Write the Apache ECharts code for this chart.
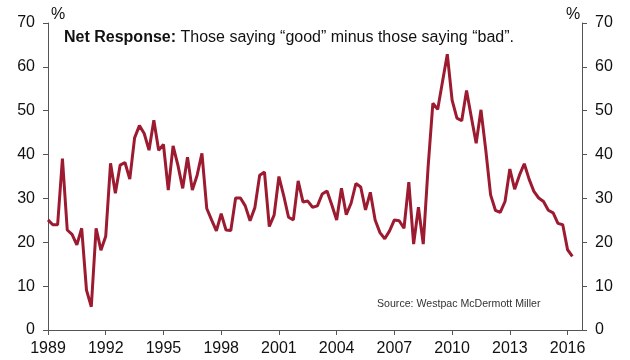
<!DOCTYPE html>
<html>
<head>
<meta charset="utf-8">
<script src="https://cdn.jsdelivr.net/npm/echarts@6/dist/echarts.min.js"></script>
<style>
  html, body { margin: 0; padding: 0; background: #fff; }
  #chart { width: 630px; height: 360px; }
</style>
</head>
<body>
<div id="chart"></div>
<script>
// Quarterly net response, first value is Q1 1989
const startYear = 1989;
const netResponse = [
  25.1, 24.0, 24.0, 39.1, 22.8, 21.8, 19.4, 23.2, 9.1, 5.3,
  23.2, 18.2, 21.4, 38.0, 31.2, 37.6, 38.2, 34.4, 43.8, 46.6,
  44.8, 41.0, 47.8, 41.0, 42.3, 31.9, 42.0, 37.6, 32.3, 39.4,
  31.9, 35.3, 40.3, 27.7, 25.1, 22.6, 26.5, 22.8, 22.7, 30.1,
  30.1, 28.3, 24.9, 27.9, 35.3, 36.0, 23.6, 26.2, 35.0, 30.6,
  25.7, 25.1, 34.0, 29.2, 29.4, 28.0, 28.3, 31.0, 31.7, 28.5,
  25.1, 32.3, 26.3, 28.9, 33.4, 32.6, 27.4, 31.4, 25.1, 22.2,
  20.8, 22.6, 25.1, 24.9, 23.2, 33.7, 19.6, 28.0, 19.6, 37.0,
  51.7, 50.3, 56.6, 62.9, 52.4, 48.3, 47.7, 54.6, 48.5, 42.6,
  50.2, 41.0, 30.8, 27.3, 26.8, 29.3, 36.7, 32.1, 35.3, 37.9,
  34.4, 31.6, 30.1, 29.3, 27.3, 26.7, 24.3, 24.0, 18.3, 16.8
];
const yearTicks = [1989, 1992, 1995, 1998, 2001, 2004, 2007, 2010, 2013, 2016];
const titleBold = 'Net Response:';
const titleText = ' Those saying “good” minus those saying “bad”.';
const sourceText = 'Source: Westpac McDermott Miller';

const points = netResponse.map((v, i) => [startYear + i / 4, v]);

const font = 'Arial, "Liberation Sans", sans-serif';
const axisColor = '#555';
const lineColor = '#9C1B30';

const yAxisBase = {
  type: 'value',
  min: 0,
  max: 70,
  interval: 10,
  splitLine: { show: false },
  axisLine: { show: true, lineStyle: { color: axisColor, width: 1 } },
  axisTick: { show: true, length: 5, lineStyle: { color: axisColor } },
  axisLabel: { color: '#111', fontSize: 16, fontFamily: font, margin: 13 }
};

const chart = echarts.init(document.getElementById('chart'), null, { renderer: 'canvas' });
chart.setOption({
  animation: false,
  backgroundColor: '#fff',
  grid: { left: 48, right: 48, top: 23, bottom: 30, containLabel: false },
  xAxis: {
    type: 'value',
    min: 1989,
    max: 2016.75,
    interval: 3,
    splitLine: { show: false },
    axisLine: { show: true, lineStyle: { color: axisColor, width: 1 } },
    axisTick: { show: true, length: 5, customValues: yearTicks, lineStyle: { color: axisColor } },
    axisLabel: {
      customValues: yearTicks,
      color: '#111', fontSize: 16, fontFamily: font, margin: 11,
      formatter: v => String(v)
    }
  },
  yAxis: [
    Object.assign({}, yAxisBase, { position: 'left' }),
    Object.assign({}, yAxisBase, { position: 'right' })
  ],
  series: [{
    type: 'line',
    data: points,
    showSymbol: false,
    lineStyle: { color: lineColor, width: 3 },
    itemStyle: { color: lineColor }
  }],
  graphic: [
    { type: 'text', left: 51, top: 7,
      style: { text: '%', fontSize: 16, fontFamily: font, fill: '#111' } },
    { type: 'text', left: 566, top: 7,
      style: { text: '%', fontSize: 16, fontFamily: font, fill: '#111' } },
    { type: 'text', left: 64, top: 30,
      style: {
        text: '{b|' + titleBold + '}{n|' + titleText + '}',
        rich: {
          b: { fontSize: 16, fontWeight: 'bold', fontFamily: font, fill: '#111' },
          n: { fontSize: 16, fontFamily: font, fill: '#111' }
        }
      } },
    { type: 'text', left: 377, top: 299,
      style: { text: sourceText, fontSize: 10.6, fontFamily: font, fill: '#333' } }
  ]
});
</script>
</body>
</html>
